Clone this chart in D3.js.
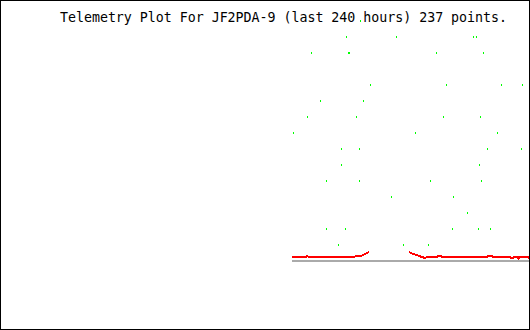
<!DOCTYPE html>
<html>
<head>
<meta charset="utf-8">
<script src="https://cdn.jsdelivr.net/npm/d3@7"></script>
<style>
  html, body { margin: 0; padding: 0; background: #fff; }
  svg { display: block; }
</style>
</head>
<body>
<svg width="530" height="330"></svg>
<script>
// Datos (horas relativas a "ahora")
const titleText = "Telemetry Plot For JF2PDA-9 (last 240 hours) 237 points.";

const greenHours = [
  -85,
  -92, -67, -28.5, -27,
  -109.5, -91, -90.5, -47, -23.5,
  -80, -41.5, -14.5, -4,
  -105, -83.5,
  -111.5, -86.5, -43, -25,
  -118, -57.5, -16.5,
  -94, -85.5, -21.5, -4.5,
  -94.5, -94, -25.5,
  -102, -85.5, -50, -24.5,
  -69.5, -38.5,
  -31.5,
  -101.5, -92.5, -39, -26, -20,
  -95.5, -63.5, -50.5
];
const greenValues = [
  15,
  14, 14, 14, 14,
  13, 13, 13, 13, 13,
  11, 11, 11, 11,
  10, 10,
  9, 9, 9, 9,
  8, 8, 8,
  7, 7, 7, 7,
  6, 6, 6,
  5, 5, 5, 5,
  4, 4,
  3,
  2, 2, 2, 2, 2,
  1, 1, 1
];

// null = hueco en los datos
const redHours = [
  -119, -112, -111.5, -110.5, -90, -89, -87.5, -86.5, -84, -83, -82, -81, -80.5,
  null,
  -60.5, -59.5, -58.5, -56.5, -55.5, -54, -52.5, -51.5, -46.5, -46, -44.5, -44,
  -36, -35.5, -34.5, -34, -27.5, -27, -21.5, -21, -19, -18.5, -10, -9.5, -8.5,
  -8, -6, -5.75, -5.25, -1, -0.5, 0
];
const redValues = [
  0.25, 0.25, 0.31, 0.25, 0.25, 0.28, 0.28, 0.31, 0.34, 0.41, 0.47, 0.53, 0.56,
  null,
  0.56, 0.5, 0.44, 0.38, 0.31, 0.25, 0.19, 0.25, 0.25, 0.33, 0.33, 0.27,
  0.27, 0.22, 0.22, 0.27, 0.27, 0.23, 0.23, 0.29, 0.29, 0.25, 0.25, 0.19, 0.19,
  0.25, 0.25, 0.16, 0.27, 0.27, 0.19, 0.19
];

const grayHours = [-119, 0];
const grayValues = [0, 0];

const svg = d3.select("svg"),
  width = +svg.attr("width"),
  height = +svg.attr("height");

// Escalas
const xScale = d3.scaleLinear().domain([-240, 0]).range([50, 530]);
const yScale = d3.scaleLinear().domain([0, 15]).range([261, 21]);

// Título
svg.append("text")
  .attr("x", 60)
  .attr("y", 22)
  .attr("textLength", 447)
  .attr("lengthAdjust", "spacing")
  .style("font-family", "'DejaVu Sans Mono', monospace")
  .style("font-size", "13.3px")
  .attr("fill", "#000")
  .text(titleText);

// Línea gris
const line = d3.line()
  .defined(d => d[0] !== null)
  .x(d => xScale(d[0]))
  .y(d => yScale(d[1]));

svg.append("path")
  .datum(grayHours.map((h, i) => [h, grayValues[i]]))
  .attr("d", line)
  .attr("fill", "none")
  .attr("stroke", "#aaaaaa")
  .attr("stroke-width", 2)
  .attr("shape-rendering", "crispEdges");

// Serie roja
svg.append("path")
  .datum(redHours.map((h, i) => [h, redValues[i]]))
  .attr("d", line)
  .attr("fill", "none")
  .attr("stroke", "#ff0000")
  .attr("stroke-width", 2)
  .attr("shape-rendering", "crispEdges");

// Puntos verdes
svg.selectAll("rect.pt")
  .data(greenHours.map((h, i) => [h, greenValues[i]]))
  .join("rect")
  .attr("class", "pt")
  .attr("x", d => Math.floor(xScale(d[0])))
  .attr("y", d => Math.round(yScale(d[1])) - 1)
  .attr("width", 1)
  .attr("height", 2)
  .attr("fill", "#00ff00")
  .attr("shape-rendering", "crispEdges");

// Marco
svg.append("rect")
  .attr("x", 0.5)
  .attr("y", 0.5)
  .attr("width", width - 1)
  .attr("height", height - 1)
  .attr("fill", "none")
  .attr("stroke", "#000")
  .attr("stroke-width", 1);
</script>
</body>
</html>
